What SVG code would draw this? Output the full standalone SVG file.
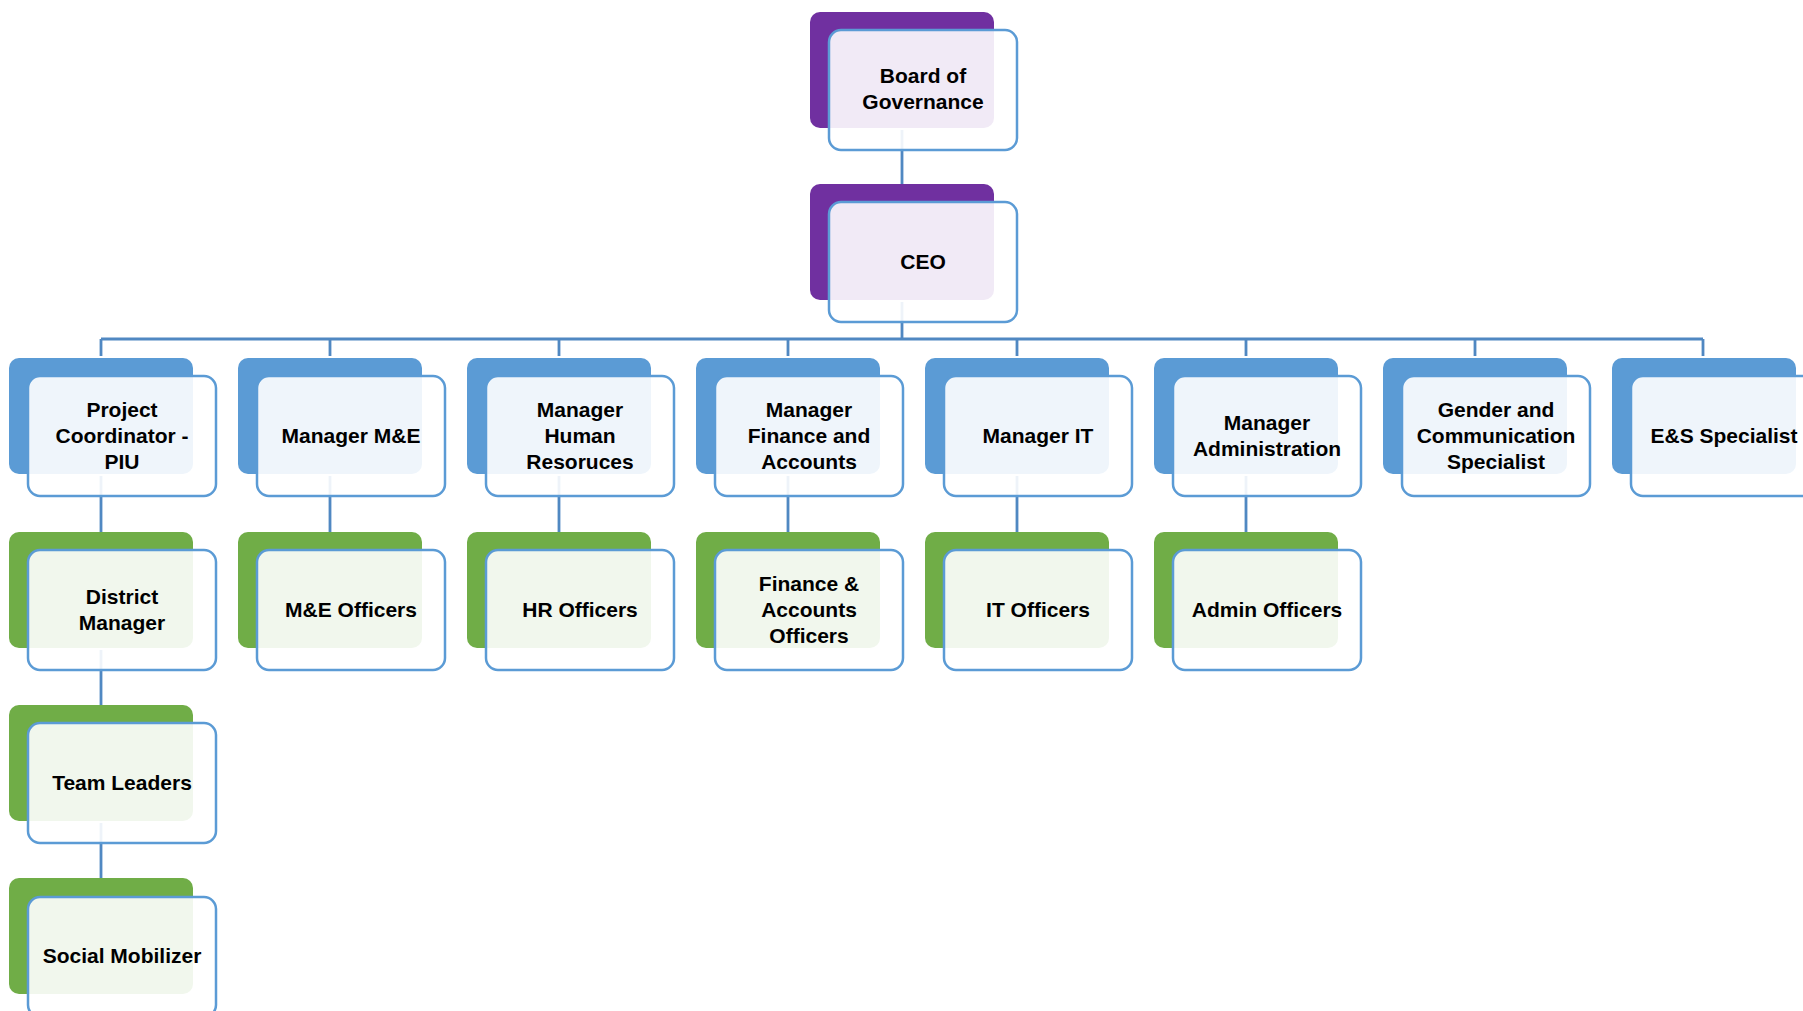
<svg xmlns="http://www.w3.org/2000/svg" width="1803" height="1011" viewBox="0 0 1803 1011">
<style>
.bp{fill:#7030A0}
.bb{fill:#5B9BD5}
.bg{fill:#70AD47}
.fg{fill:#ffffff;fill-opacity:0.9;stroke:#5B9BD5;stroke-width:2.5}
.t{font-family:"Liberation Sans",Arial,sans-serif;font-weight:bold;font-size:21px;fill:#000;text-anchor:middle}
.c{stroke:#5088C2;stroke-width:2.8;fill:none}
</style>
<rect width="1803" height="1011" fill="#fff"/>
<g id="backs">
<rect class="bp" x="810" y="12" width="184" height="116" rx="10"/>
<rect class="bp" x="810" y="184" width="184" height="116" rx="10"/>
<rect class="bb" x="9" y="358" width="184" height="116" rx="10"/>
<rect class="bb" x="238" y="358" width="184" height="116" rx="10"/>
<rect class="bb" x="467" y="358" width="184" height="116" rx="10"/>
<rect class="bb" x="696" y="358" width="184" height="116" rx="10"/>
<rect class="bb" x="925" y="358" width="184" height="116" rx="10"/>
<rect class="bb" x="1154" y="358" width="184" height="116" rx="10"/>
<rect class="bb" x="1383" y="358" width="184" height="116" rx="10"/>
<rect class="bb" x="1612" y="358" width="184" height="116" rx="10"/>
<rect class="bg" x="9" y="532" width="184" height="116" rx="10"/>
<rect class="bg" x="238" y="532" width="184" height="116" rx="10"/>
<rect class="bg" x="467" y="532" width="184" height="116" rx="10"/>
<rect class="bg" x="696" y="532" width="184" height="116" rx="10"/>
<rect class="bg" x="925" y="532" width="184" height="116" rx="10"/>
<rect class="bg" x="1154" y="532" width="184" height="116" rx="10"/>
<rect class="bg" x="9" y="705" width="184" height="116" rx="10"/>
<rect class="bg" x="9" y="878" width="184" height="116" rx="10"/>
</g>
<g id="connectors">
<path class="c" d="M902 130V184"/>
<path class="c" d="M902 302V339"/>
<path class="c" d="M101 339H1703"/>
<path class="c" d="M101 339V356M330 339V356M559 339V356M788 339V356M1017 339V356M1246 339V356M1475 339V356M1703 339V356"/>
<path class="c" d="M101 476V532M330 476V532M559 476V532M788 476V532M1017 476V532M1246 476V532"/>
<path class="c" d="M101 650V705M101 823V878"/>
</g>
<g id="board"><rect class="fg" x="829" y="30" width="188" height="120" rx="12"/><text class="t" x="923" y="83">Board of</text><text class="t" x="923" y="109">Governance</text></g>
<g id="ceo"><rect class="fg" x="829" y="202" width="188" height="120" rx="12"/><text class="t" x="923" y="269">CEO</text></g>
<g id="pc"><rect class="fg" x="28" y="376" width="188" height="120" rx="12"/><text class="t" x="122" y="417">Project</text><text class="t" x="122" y="443">Coordinator -</text><text class="t" x="122" y="469">PIU</text></g>
<g id="mme"><rect class="fg" x="257" y="376" width="188" height="120" rx="12"/><text class="t" x="351" y="443">Manager M&amp;E</text></g>
<g id="mhr"><rect class="fg" x="486" y="376" width="188" height="120" rx="12"/><text class="t" x="580" y="417">Manager</text><text class="t" x="580" y="443">Human</text><text class="t" x="580" y="469">Resoruces</text></g>
<g id="mfa"><rect class="fg" x="715" y="376" width="188" height="120" rx="12"/><text class="t" x="809" y="417">Manager</text><text class="t" x="809" y="443">Finance and</text><text class="t" x="809" y="469">Accounts</text></g>
<g id="mit"><rect class="fg" x="944" y="376" width="188" height="120" rx="12"/><text class="t" x="1038" y="443">Manager IT</text></g>
<g id="madm"><rect class="fg" x="1173" y="376" width="188" height="120" rx="12"/><text class="t" x="1267" y="430">Manager</text><text class="t" x="1267" y="456">Administration</text></g>
<g id="gcs"><rect class="fg" x="1402" y="376" width="188" height="120" rx="12"/><text class="t" x="1496" y="417">Gender and</text><text class="t" x="1496" y="443">Communication</text><text class="t" x="1496" y="469">Specialist</text></g>
<g id="es"><rect class="fg" x="1631" y="376" width="188" height="120" rx="12"/><text class="t" x="1724" y="443">E&amp;S Specialist</text></g>
<g id="dm"><rect class="fg" x="28" y="550" width="188" height="120" rx="12"/><text class="t" x="122" y="604">District</text><text class="t" x="122" y="630">Manager</text></g>
<g id="meo"><rect class="fg" x="257" y="550" width="188" height="120" rx="12"/><text class="t" x="351" y="617">M&amp;E Officers</text></g>
<g id="hro"><rect class="fg" x="486" y="550" width="188" height="120" rx="12"/><text class="t" x="580" y="617">HR Officers</text></g>
<g id="fao"><rect class="fg" x="715" y="550" width="188" height="120" rx="12"/><text class="t" x="809" y="591">Finance &amp;</text><text class="t" x="809" y="617">Accounts</text><text class="t" x="809" y="643">Officers</text></g>
<g id="ito"><rect class="fg" x="944" y="550" width="188" height="120" rx="12"/><text class="t" x="1038" y="617">IT Officers</text></g>
<g id="ado"><rect class="fg" x="1173" y="550" width="188" height="120" rx="12"/><text class="t" x="1267" y="617">Admin Officers</text></g>
<g id="tl"><rect class="fg" x="28" y="723" width="188" height="120" rx="12"/><text class="t" x="122" y="790">Team Leaders</text></g>
<g id="sm"><rect class="fg" x="28" y="897" width="188" height="120" rx="12"/><text class="t" x="122" y="963">Social Mobilizer</text></g>
</svg>
